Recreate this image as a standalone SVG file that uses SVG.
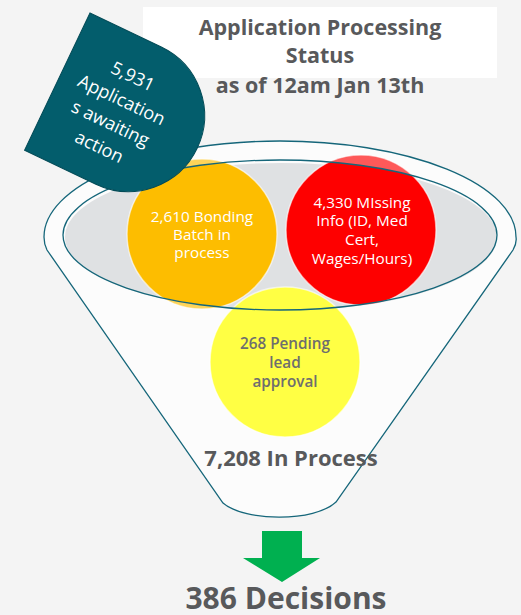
<svg xmlns="http://www.w3.org/2000/svg" width="521" height="615" viewBox="0 0 521 615">
<defs>
<style>
.ol{fill:none;stroke:#15667a;stroke-width:1.3}
.t{font-family:"Open Sans","Liberation Sans",sans-serif;text-anchor:middle}
.hd{font-weight:700;fill:#58595b}
.wt{fill:#ffffff;font-size:15.3px}
.circ{stroke:#ffffff;stroke-opacity:0.6;stroke-width:1.5}
</style>
<clipPath id="rc"><circle cx="202" cy="234" r="75"/><circle cx="361" cy="230" r="75"/></clipPath>
</defs>
<rect width="521" height="615" fill="#f4f4f4"/>
<g id="title">
<rect x="143" y="7" width="354" height="71" fill="#ffffff"/>
<text class="t hd" x="320" y="35" font-size="21.5">Application Processing</text>
<text class="t hd" x="320" y="63" font-size="21.5">Status</text>
<text class="t hd" x="320" y="93" font-size="21.5">as of 12am Jan 13th</text>
</g>
<g id="funnel">
<path d="M44,237 A236,96 0 0 1 516,237 Q517,243 513,250 L336,502 C315,522 245,522 223,503 L47,250 Q44,244 44,237 Z" fill="#fcfcfc"/>
<ellipse cx="281" cy="237" rx="216" ry="74" fill="#dfe1e3"/>
</g>
<g id="node-bonding">
<circle class="circ" cx="202" cy="234" r="75" fill="#fdbd00"/>
<text class="t wt" x="202" y="222">2,610 Bonding</text>
<text class="t wt" x="202" y="240">Batch in</text>
<text class="t wt" x="202" y="258">process</text>
</g>
<g id="node-missing">
<circle class="circ" cx="361" cy="230" r="75" fill="#fe0000"/>
<text class="t wt" x="362" y="208">4,330 MIssing</text>
<text class="t wt" x="362" y="226">Info (ID, Med</text>
<text class="t wt" x="362" y="245">Cert,</text>
<text class="t wt" x="362" y="264">Wages/Hours)</text>
</g>
<path d="M0,0 H521 V615 H0 Z M497,235 A216,75 0 1 0 65,235 A216,75 0 1 0 497,235 Z" fill="#ffffff" fill-opacity="0.35" fill-rule="evenodd" clip-path="url(#rc)"/>
<g id="node-pending">
<circle class="circ" cx="285" cy="362" r="75" fill="#ffff44"/>
<text class="t" x="285" y="349" font-size="15.3" font-weight="600" fill="#6e6e6e">268 Pending</text>
<text class="t" x="285" y="368" font-size="15.3" font-weight="600" fill="#6e6e6e">lead</text>
<text class="t" x="285" y="387" font-size="15.3" font-weight="600" fill="#6e6e6e">approval</text>
</g>
<g id="outlines">
<path class="ol" d="M44,237 A236,96 0 0 1 516,237 Q517,243 513,250 L336,502 C315,522 245,522 223,503 L47,250 Q44,244 44,237 Z"/>
<ellipse class="ol" cx="280" cy="235" rx="217" ry="75"/>
</g>
<g id="node-inprocess">
<text class="t hd" x="291" y="466" font-size="22">7,208 In Process</text>
</g>
<g id="connectors">
<path d="M262,531 H302 V558 H320 L282,582 L243,558 H262 Z" fill="#00b050"/>
</g>
<g id="node-decisions">
<text class="t hd" x="286" y="609" font-size="30">386 Decisions</text>
</g>
<g id="node-awaiting" transform="translate(90,13) rotate(25.5)">
<path d="M0,0 H79 A76,76 0 0 1 79,152 H0 Z" fill="#035d6c" stroke="#034b57" stroke-width="1"/>
<text class="t" x="66" y="45" font-size="18" fill="#ffffff">5,931</text>
<text class="t" x="66" y="71" font-size="18" fill="#ffffff">Application</text>
<text class="t" x="66" y="97" font-size="18" fill="#ffffff">s awaiting</text>
<text class="t" x="66" y="123" font-size="18" fill="#ffffff">action</text>
</g>
</svg>
